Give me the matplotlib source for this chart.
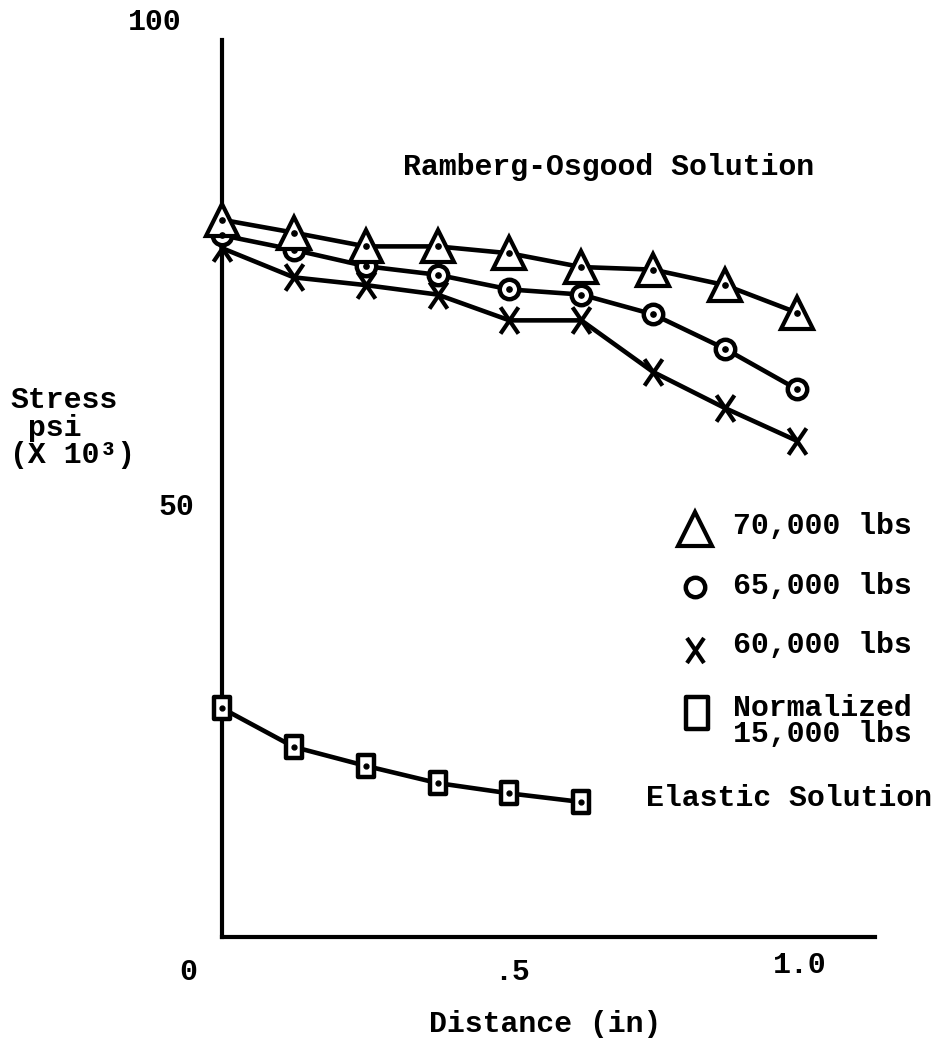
import matplotlib
matplotlib.use("Agg")
import matplotlib.pyplot as plt
from matplotlib.path import Path

# ---- data ----
distance = [0.0, 0.125, 0.25, 0.375, 0.5, 0.625, 0.75, 0.875, 1.0]
stress_70k = [83.4, 81.9, 80.3, 80.3, 79.5, 77.9, 77.6, 75.8, 72.6]
stress_65k = [81.6, 79.9, 78.0, 77.0, 75.3, 74.7, 72.4, 68.4, 63.7]
stress_60k = [80.1, 76.7, 75.8, 74.7, 71.7, 71.7, 65.7, 61.5, 57.7]
distance_el = [0.0, 0.125, 0.25, 0.375, 0.5, 0.625]
stress_15k_norm = [26.6, 22.1, 19.9, 17.9, 16.7, 15.7]

ytick_vals = [0, 50, 100]
ytick_labels = ["0", "50", "100"]
xtick_vals = [0.5, 1.0]
xtick_labels = [".5", "1.0"]
legend_labels = ["70,000 lbs", "65,000 lbs", "60,000 lbs", "Normalized\n15,000 lbs"]

FONT = ["Liberation Mono", "DejaVu Sans Mono"]
plt.rcParams['font.family'] = FONT
plt.rcParams['font.weight'] = 'bold'

W, H = 937, 1041
fig = plt.figure(figsize=(W / 100, H / 100), dpi=100)
ax = fig.add_axes([222 / W, (H - 937) / H, (875 - 222) / W, (937 - 40) / H])
ax.set_xlim(0, 1.136)
ax.set_ylim(0, 104.3)
for s in ['top', 'right']:
    ax.spines[s].set_visible(False)
for s in ['left', 'bottom']:
    ax.spines[s].set_linewidth(3)
ax.set_xticks([])
ax.set_yticks([])

xmark = Path([(-0.68, -1), (0.68, 1), (-0.68, 1), (0.68, -1)],
             [Path.MOVETO, Path.LINETO, Path.MOVETO, Path.LINETO])
rect = Path([(-0.68, -1), (0.68, -1), (0.68, 1), (-0.68, 1), (-0.68, -1)],
            [Path.MOVETO, Path.LINETO, Path.LINETO, Path.LINETO, Path.CLOSEPOLY])

lw = 3.3
kw = dict(color='black', lw=lw, clip_on=False)
ax.plot(distance, stress_60k, marker=xmark, ms=19, mew=3, mfc='none', mec='black', zorder=3, **kw)
ax.plot(distance, stress_65k, marker='o', ms=14, mew=3.2, mfc='white', mec='black', zorder=4, **kw)
ax.plot(distance, stress_70k, marker='^', ms=23, mew=3, mfc='white', mec='black', zorder=5, **kw)
ax.plot(distance_el, stress_15k_norm, marker=rect, ms=16, mew=3.2, mfc='white', mec='black', zorder=4, **kw)
# centre dots
ax.plot(distance, stress_65k, ls='none', marker='o', ms=3.8, color='black', zorder=6, clip_on=False)
ax.plot(distance, stress_70k, ls='none', marker='o', ms=3.8, color='black', zorder=6, clip_on=False)
ax.plot(distance_el, stress_15k_norm, ls='none', marker='o', ms=3.5, color='black', zorder=6, clip_on=False)

fs = 21.5
tk = dict(fontsize=fs, fontweight='bold', ha='center', va='center', clip_on=False)
# tick labels
ax.text(-0.117, 106.4, ytick_labels[2], **tk)
ax.text(-0.08, ytick_vals[1], ytick_labels[1], **tk)
ax.text(-0.059, -4.1, ytick_labels[0], **tk)
ax.text(xtick_vals[0] + 0.005, -4.1, xtick_labels[0], **tk)
ax.text(xtick_vals[1] + 0.005, -3.3, xtick_labels[1], **tk)

# overlay axes in pixel coordinates for free text / legend
lax = fig.add_axes([0, 0, 1, 1], facecolor='none')
lax.set_xlim(0, W)
lax.set_ylim(H, 0)
lax.axis('off')
tt = dict(fontsize=fs, fontweight='bold')

# axis labels
lax.text(10, 386, "Stress\n psi\n(X 10³)", ha='left', va='top', multialignment='left',
         linespacing=0.98, **tt)
lax.text(545, 1024, "Distance (in)", ha='center', va='center', **tt)

# annotations
lax.text(609, 167, "Ramberg-Osgood Solution", ha='center', va='center', **tt)
lax.text(789, 798, "Elastic Solution", ha='center', va='center', **tt)

# legend (manual)
lax.plot([695], [529], marker='^', ms=25, mew=3, mfc='white', mec='black', ls='none')
lax.plot([695], [587], marker='o', ms=14, mew=3.2, mfc='white', mec='black', ls='none')
lax.plot([695], [650], marker=xmark, ms=18, mew=3, mfc='none', mec='black', ls='none')
lax.plot([697], [713], marker=rect, ms=23, mew=3.2, mfc='white', mec='black', ls='none')
tx = 733
lax.text(tx, 526, legend_labels[0], ha='left', va='center', **tt)
lax.text(tx, 586, legend_labels[1], ha='left', va='center', **tt)
lax.text(tx, 645, legend_labels[2], ha='left', va='center', **tt)
lax.text(tx, 721, legend_labels[3], ha='left', va='center', linespacing=0.95, **tt)

fig.savefig("out.png", dpi=100, facecolor='white')
